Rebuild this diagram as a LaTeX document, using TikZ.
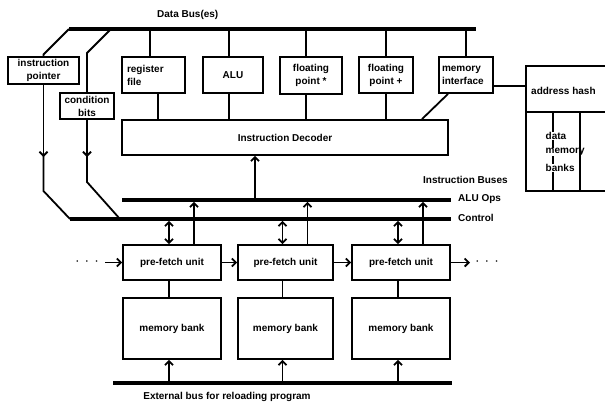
\documentclass[tikz,border=0pt]{standalone}
\usepackage{fontspec}
\setmainfont{Liberation Sans}
\usetikzlibrary{arrows.meta}
\begin{document}
\begin{tikzpicture}[x=1pt,y=-1pt,
 every node/.style={font=\fontsize{10}{13}\selectfont\bfseries},
 box/.style={draw,line width=1.8pt,inner sep=2pt,align=center},
 ln/.style={line width=1.8pt},
 bus/.style={line width=3.8pt},
 arr/.style={ln,-{Straight Barb[length=4pt,width=8pt]}},
 darr/.style={ln,{Straight Barb[length=4pt,width=8pt]}-{Straight Barb[length=4pt,width=8pt]}},
 lbl/.style={inner sep=0pt},
 dots/.style={inner sep=0pt,font=\fontsize{6}{6}\selectfont}]
\useasboundingbox (0,0) rectangle (605,405);

% buses
\coordinate (db1) at (69,29); \coordinate (db2) at (476,29);
\coordinate (ab1) at (122,200); \coordinate (ab2) at (451,200);
\coordinate (cb1) at (70,219); \coordinate (cb2) at (451,219);
\coordinate (eb1) at (113,383); \coordinate (eb2) at (452,383);
\draw[line width=4.2pt] (db1) -- (db2);
\draw[bus] (ab1) -- (ab2);
\draw[bus] (cb1) -- (cb2);
\draw[bus] (eb1) -- (eb2);

% bus labels
\node[lbl,anchor=west] (dbl) at (157,15) {Data Bus(es)};
\node[lbl,anchor=west] (ibl) at (423,180) {Instruction Buses};
\node[lbl,anchor=west] (abl) at (458,199) {ALU Ops};
\node[lbl,anchor=west] (cbl) at (458,218) {Control};
\node[lbl] (ebl) at (227,397) {External bus for reloading program};

% top units
\node[box,minimum width=71pt,minimum height=27pt] (ip) at (43.5,70.5) {instruction\\pointer};
\node[box,minimum width=54pt,minimum height=26pt] (cb) at (87,106) {condition\\bits};
\node[box,minimum width=63pt,minimum height=36pt,text width=53pt,align=left] (rf) at (153.5,75) {register\\file};
\node[box,minimum width=60pt,minimum height=36pt] (alu) at (233,75) {ALU};
\node[box,minimum width=62pt,minimum height=37pt] (fpm) at (311,75.5) {floating\\point *};
\node[box,minimum width=54pt,minimum height=36pt] (fpp) at (386,75) {floating\\point +};
\node[box,minimum width=54pt,minimum height=36pt,text width=48pt,align=left] (mi) at (466,75) {memory\\interface};
\node[box,minimum width=326pt,minimum height=35pt] (dec) at (285,137.5) {Instruction Decoder};

% address hash / data memory banks
\node[draw,ln,minimum width=84pt,minimum height=125pt] (ah) at (568,128.5) {};
\node[lbl,anchor=west] (aht) at (531,91) {address hash};
\coordinate (ahd) at (568,112);
\draw[ln] (ah.west |- ahd) -- (ah.east |- ahd);
\draw[ln] ([xshift=-15pt]ahd) -- ([xshift=-15pt]ah.south);
\node[lbl,anchor=west,fill=white,inner sep=0.5pt] (dmb1) at (545,136) {data};
\node[lbl,anchor=west,fill=white,inner sep=0.5pt] (dmb2) at (545,152) {memory};
\node[lbl,anchor=west,fill=white,inner sep=0.5pt] (dmb3) at (545,168) {banks};
\draw[ln] ([xshift=12pt]ahd) -- ([xshift=12pt]ah.south);

% connections to data bus and decoder
\draw[ln] (db1) -- (43.5,54.5) -- (ip.north);
\draw[arr] (ip.south) -- (43.5,157);
\draw[ln] (43.5,155) -- (43.5,191) -- (cb1);
\coordinate (cbt) at (111,29);
\draw[ln] (cbt) -- (87,53) -- (cb.north);
\draw[arr] (cb.south) -- (87,157);
\draw[ln] (87,155) -- (87,182) -- (120,219);

\draw[ln] ([xshift=-3.5pt]rf.north) -- ([xshift=-3.5pt]rf.north |- db1);
\draw[ln] ([xshift=4.5pt]rf.south) -- ([xshift=4.5pt]rf.south |- dec.north);
\draw[ln] ([xshift=-4pt]alu.north) -- ([xshift=-4pt]alu.north |- db1);
\draw[ln] ([xshift=-4pt]alu.south) -- ([xshift=-4pt]alu.south |- dec.north);
\draw[ln] ([xshift=-5pt]fpm.north) -- ([xshift=-5pt]fpm.north |- db1);
\draw[ln] ([xshift=-5pt]fpm.south) -- ([xshift=-5pt]fpm.south |- dec.north);
\draw[ln] (fpp.north) -- (fpp.north |- db1);
\draw[ln] (fpp.south) -- (fpp.south |- dec.north);
\draw[ln] (mi.north) -- (mi.north |- db1);
\draw[ln] ([xshift=-18pt]mi.south) -- ([xshift=137pt]dec.north);
\draw[ln] ([yshift=-11pt]mi.east) -- ([yshift=-11pt]mi.east -| ah.west);

\draw[arr] ([xshift=-30pt]dec.south |- ab1) -- ([xshift=-30pt]dec.south);

% pre-fetch units and memory banks
\node[box,minimum width=98pt,minimum height=35pt] (pf1) at (172,262.5) {pre-fetch unit};
\node[box,minimum width=95pt,minimum height=35pt] (pf2) at (285.5,262.5) {pre-fetch unit};
\node[box,minimum width=98pt,minimum height=35pt] (pf3) at (401,262.5) {pre-fetch unit};
\node[box,minimum width=98pt,minimum height=61pt] (mb1) at (172,328.5) {memory bank};
\node[box,minimum width=95pt,minimum height=61pt] (mb2) at (285.5,328.5) {memory bank};
\node[box,minimum width=98pt,minimum height=61pt] (mb3) at (401,328.5) {memory bank};

\foreach \p/\m in {pf1/mb1,pf2/mb2,pf3/mb3}{
  \draw[darr,shorten >=1.9pt] ([xshift=-3pt]\p.north) -- ([xshift=-3pt]\p.north |- cb1);
  \draw[arr,shorten >=1.9pt] ([xshift=22pt]\p.north) -- ([xshift=22pt]\p.north |- ab1);
  \draw[ln] ([xshift=-3pt]\p.south) -- ([xshift=-3pt]\m.north);
  \draw[arr] ([xshift=-3pt]\m.south |- eb1) -- ([xshift=-3pt]\m.south);
}

\coordinate (pin) at (105,262.5);
\coordinate (pout) at (470,262.5);
\draw[arr] (pin) -- (pf1.west);
\draw[arr] (pf1.east) -- (pf2.west);
\draw[arr] (pf2.east) -- (pf3.west);
\draw[arr] (pf3.east) -- (pout);
\node[dots] (dl) at (87,262) {\textbullet\hspace{7.5pt}\textbullet\hspace{7.5pt}\textbullet};
\node[dots] (dr) at (487,262) {\textbullet\hspace{7.5pt}\textbullet\hspace{7.5pt}\textbullet};
\end{tikzpicture}
\end{document}
